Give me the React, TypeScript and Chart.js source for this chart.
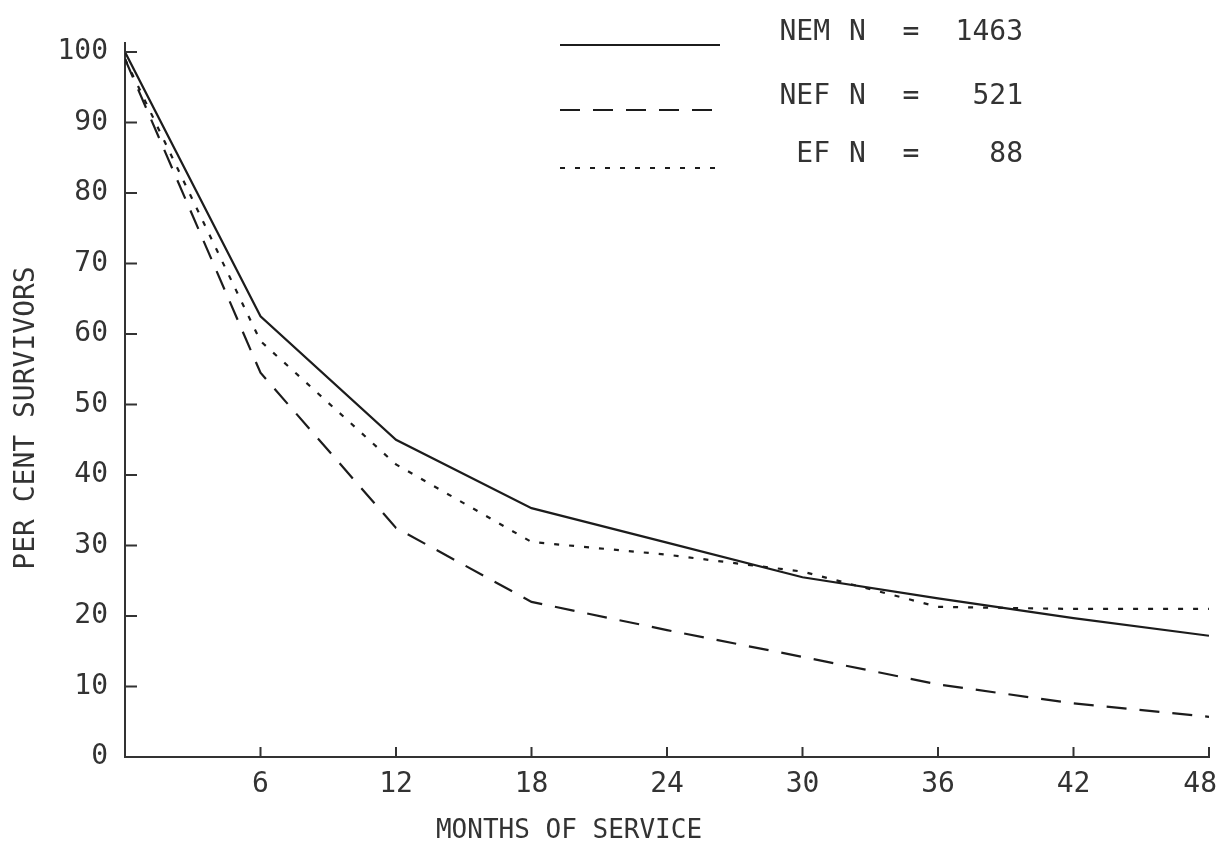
import React, { useEffect, useRef } from "react";
import { Chart, registerables } from "chart.js";

Chart.register(...registerables);

// Months of service at which survival was measured
const months = [0, 6, 12, 18, 24, 30, 36, 42, 48];

// Per cent survivors for each group
const nemSurvivors = [100, 62.5, 45, 35.3, 30.4, 25.5, 22.5, 19.7, 17.2];
const nefSurvivors = [99, 54.5, 32.5, 22, 18, 14.2, 10.3, 7.6, 5.7];
const efSurvivors = [99, 59, 41.5, 30.5, 28.7, 26.3, 21.3, 21, 21];

const groupNames = ["NEM", "NEF", "EF"];
const groupCounts = ["1463", "521", "88"];

const xTickValues = [6, 12, 18, 24, 30, 36, 42, 48];
const yTickValues = [0, 10, 20, 30, 40, 50, 60, 70, 80, 90, 100];

const xTitle = "MONTHS OF SERVICE";
const yTitle = "PER CENT SURVIVORS";

const FONT = '"DejaVu Sans Mono", "Liberation Mono", monospace';
const INK = "#333333";
const LINE = "#1c1c1c";
const DASHES: number[][] = [[], [20, 13], [5, 10]];

const WIDTH = 1222;
const HEIGHT = 843;

const toPoints = (ys: number[]) => months.map((m, i) => ({ x: m, y: ys[i] }));

// Inward tick marks, month labels, the short overrun of the y axis,
// axis titles and the key
const decorations = {
  id: "decorations",
  afterDraw(chart: Chart) {
    const { ctx, chartArea } = chart;
    const x = chart.scales.x;
    const y = chart.scales.y;
    ctx.save();
    ctx.strokeStyle = INK;
    ctx.lineWidth = 2;
    ctx.beginPath();
    for (const v of yTickValues) {
      const py = y.getPixelForValue(v);
      ctx.moveTo(chartArea.left, py);
      ctx.lineTo(chartArea.left + 12, py);
    }
    for (const v of xTickValues) {
      const px = x.getPixelForValue(v);
      ctx.moveTo(px, chartArea.bottom);
      ctx.lineTo(px, chartArea.bottom - 10);
    }
    ctx.moveTo(chartArea.left, chartArea.top);
    ctx.lineTo(chartArea.left, chartArea.top - 10);
    ctx.stroke();

    ctx.fillStyle = INK;
    ctx.textBaseline = "middle";

    // month labels, the last one kept inside the page
    ctx.font = `28px ${FONT}`;
    ctx.textAlign = "center";
    for (const v of xTickValues) {
      const label = String(v);
      const half = ctx.measureText(label).width / 2;
      const px = Math.min(x.getPixelForValue(v), WIDTH - half - 5);
      ctx.fillText(label, px, chartArea.bottom + 28);
    }

    ctx.font = `26px ${FONT}`;
    ctx.fillText(xTitle, 569, 831);

    ctx.font = `28px ${FONT}`;
    ctx.save();
    ctx.translate(27, 418);
    ctx.rotate(-Math.PI / 2);
    ctx.fillText(yTitle, 0, 0);
    ctx.restore();

    // key
    const lineRows = [45, 110, 168];
    const textRows = [33, 97, 155];
    ctx.strokeStyle = LINE;
    ctx.lineWidth = 2.2;
    groupNames.forEach((name, i) => {
      ctx.setLineDash(DASHES[i]);
      ctx.beginPath();
      ctx.moveTo(560, lineRows[i]);
      ctx.lineTo(720, lineRows[i]);
      ctx.stroke();
      ctx.setLineDash([]);
      ctx.textAlign = "right";
      ctx.fillText(name, 830, textRows[i]);
      ctx.textAlign = "left";
      ctx.fillText("N", 849, textRows[i]);
      ctx.textAlign = "center";
      ctx.fillText("=", 911, textRows[i]);
      ctx.textAlign = "right";
      ctx.fillText(groupCounts[i], 1023, textRows[i]);
    });
    ctx.restore();
  },
};

export default function App() {
  const canvasRef = useRef<HTMLCanvasElement | null>(null);

  useEffect(() => {
    const canvas = canvasRef.current;
    if (!canvas) return;
    const series = [nemSurvivors, nefSurvivors, efSurvivors];
    const chart = new Chart(canvas, {
      type: "line",
      data: {
        datasets: series.map((ys, i) => ({
          label: groupNames[i],
          data: toPoints(ys),
          borderColor: LINE,
          borderWidth: 2.2,
          borderDash: DASHES[i],
          pointRadius: 0,
          tension: 0,
          fill: false,
        })),
      },
      options: {
        responsive: false,
        animation: false,
        devicePixelRatio: 1,
        layout: { padding: { top: 52, right: 13, left: 0, bottom: 0 } },
        plugins: {
          legend: { display: false },
          tooltip: { enabled: false },
        },
        scales: {
          x: {
            type: "linear",
            min: 0,
            max: 48,
            afterBuildTicks: (s: any) => {
              s.ticks = xTickValues.map((v) => ({ value: v }));
            },
            afterFit: (s: any) => {
              s.height = HEIGHT - 757;
              s.paddingLeft = 0;
              s.paddingRight = 0;
            },
            grid: { display: false, drawTicks: false },
            border: { display: true, color: INK, width: 2 },
            ticks: { display: false },
          },
          y: {
            type: "linear",
            min: 0,
            max: 100,
            afterBuildTicks: (s: any) => {
              s.ticks = yTickValues.map((v) => ({ value: v }));
            },
            afterFit: (s: any) => {
              s.width = 125;
              s.paddingTop = 0;
              s.paddingBottom = 0;
            },
            grid: { display: false, drawTicks: false },
            border: { display: true, color: INK, width: 2 },
            ticks: {
              autoSkip: false,
              padding: 17,
              color: INK,
              font: { family: FONT, size: 28 },
            },
          },
        },
      },
      plugins: [decorations],
    });
    return () => chart.destroy();
  }, []);

  return (
    <div
      style={{
        position: "fixed",
        left: 0,
        top: 0,
        width: WIDTH,
        height: HEIGHT,
        background: "#ffffff",
      }}
    >
      <canvas ref={canvasRef} width={WIDTH} height={HEIGHT} />
    </div>
  );
}
